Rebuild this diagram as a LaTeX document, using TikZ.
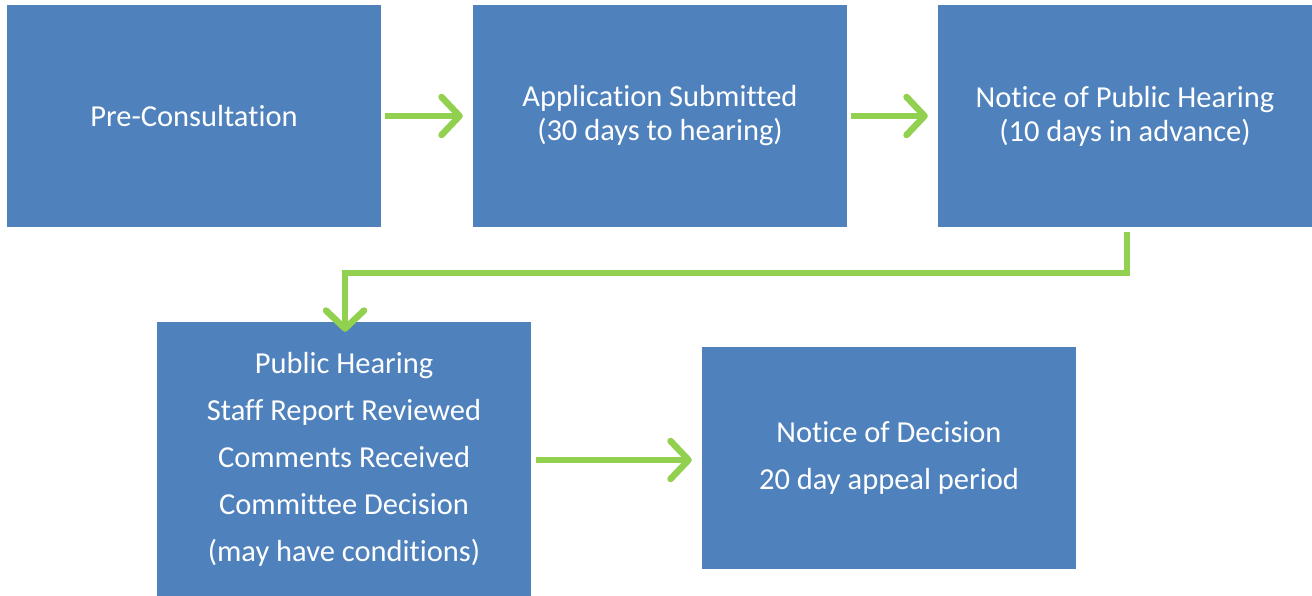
\documentclass[tikz,border=0pt]{standalone}
\usepackage{fontspec}
\setmainfont[Ligatures=NoCommon]{Carlito}
\usetikzlibrary{arrows.meta}
\definecolor{stepblue}{HTML}{4F81BD}
\definecolor{arrowgreen}{HTML}{92D050}

\begin{document}
\begin{tikzpicture}[x=1pt,y=-1pt,
 stage/.style={fill=stepblue,text=white,align=center,minimum width=374pt,minimum height=222pt,inner sep=0pt,font=\fontsize{30.5}{34}\selectfont},
 wide/.style={font=\fontsize{30.5}{47}\selectfont},
 garr/.style={-{Straight Barb[length=18pt,width=38pt,round]},arrowgreen,line width=6.5pt}]
\useasboundingbox (0,0) rectangle (1312,596);
\node[stage] (precons) at (194,116) {Pre-Consultation};
\node[stage] (submitted) at (660,116) {Application Submitted\\(30 days to hearing)};
\node[stage] (notice) at (1125,116) {Notice of Public Hearing\\(10 days in advance)};
\node[stage,wide,minimum height=274pt] (hearing) at (344,459) {Public Hearing\\Staff Report Reviewed\\Comments Received\\Committee Decision\\(may have conditions)};
\node[stage,wide] (decision) at (889,458) {Notice of Decision\\20 day appeal period};
\draw[garr] ([xshift=4pt]precons.east)--([xshift=-10pt]submitted.west);
\draw[garr] ([xshift=4pt]submitted.east)--([xshift=-10pt]notice.west);
\draw[garr] (1127,232)--(1127,273)-|([yshift=-10pt]hearing.north-|345,0);
\draw[garr] ([xshift=5pt]hearing.east|-0,460)--([xshift=-10pt]decision.west|-0,460);
\end{tikzpicture}
\end{document}
